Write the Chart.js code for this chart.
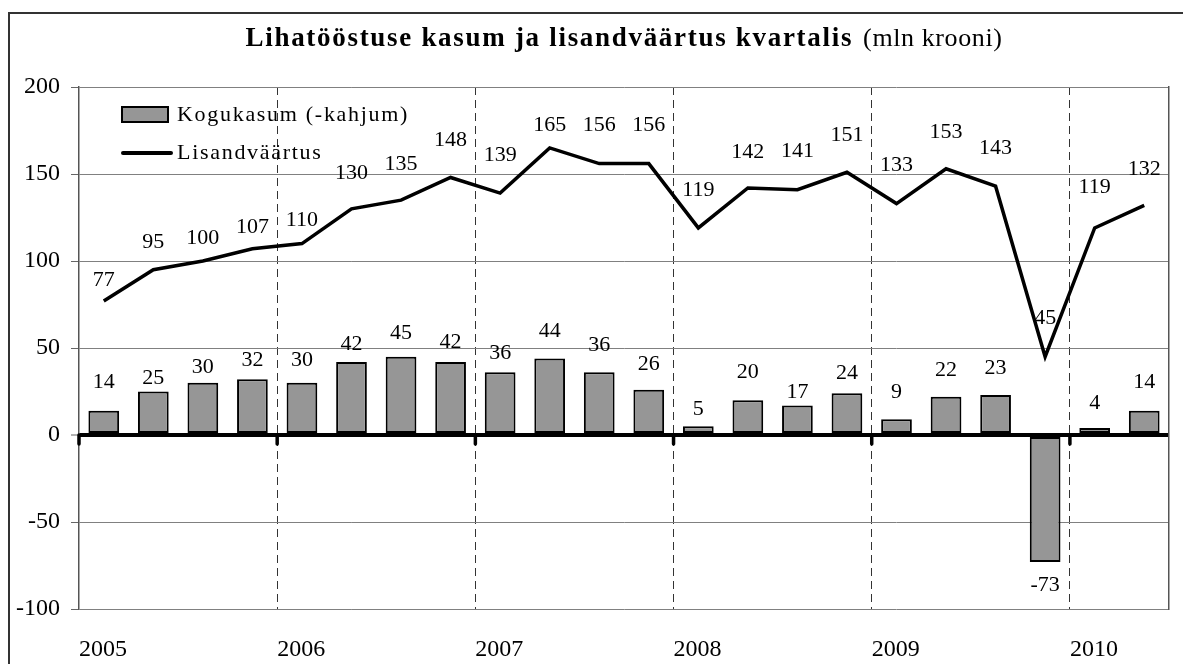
<!DOCTYPE html>
<html>
<head>
<meta charset="utf-8">
<script src="https://cdn.jsdelivr.net/npm/chart.js@4.4.1/dist/chart.umd.min.js"></script>
<style>
  body { margin: 0; background: #fff; overflow: hidden; font-family: 'Liberation Serif', serif; }
  canvas { display: block; }
  #warm { position: absolute; left: -9999px; top: 0; }
</style>
</head>
<body>
<span id="warm">Aa <b>Bb</b></span>
<canvas id="mycanvas" width="1183" height="664"></canvas>
<script>
var quarters = ['2005 I', '2005 II', '2005 III', '2005 IV',
                '2006 I', '2006 II', '2006 III', '2006 IV',
                '2007 I', '2007 II', '2007 III', '2007 IV',
                '2008 I', '2008 II', '2008 III', '2008 IV',
                '2009 I', '2009 II', '2009 III', '2009 IV',
                '2010 I', '2010 II'];
var years = ['2005', '2006', '2007', '2008', '2009', '2010'];
var profit = [14, 25, 30, 32, 30, 42, 45, 42, 36, 44, 36, 26, 5, 20, 17, 24, 9, 22, 23, -73, 4, 14];
var valueAdded = [77, 95, 100, 107, 110, 130, 135, 148, 139, 165, 156, 156, 119, 142, 141, 151, 133, 153, 143, 45, 119, 132];
var yTicks = [-100, -50, 0, 50, 100, 150, 200];

var titleBold = 'Lihatööstuse kasum ja lisandväärtus kvartalis';
var titleRest = '(mln krooni)';

// how far (px) each value label sits from its bar end / line point
var barLabelLift = [28, 13, 16, 19, 23, 18, 23, 20, 19, 27, 27, 26, 17, 28, 13, 20, 27, 27, 27, 23, 25, 28];
var lineLabelLift = [21, 27, 23, 22, 23, 36, 36, 37, 38, 23, 38, 38, 38, 36, 38, 37, 38, 37, 38, 38, 41, 36];

var serif = "'Liberation Serif', serif";

var decorations = {
  id: 'decorations',
  afterDatasetsDraw: function(chart) {
    var ctx = chart.ctx;
    var x = chart.scales.x, y = chart.scales.y;
    var y0 = y.getPixelForValue(0);

    // little ticks under the zero line at each year start
    ctx.save();
    ctx.strokeStyle = '#000';
    ctx.lineWidth = 3.5;
    ctx.lineCap = 'round';
    for (var i = 0; i < quarters.length; i += 4) {
      var bx = i === 0 ? chart.chartArea.left : (x.getPixelForValue(i - 1) + x.getPixelForValue(i)) / 2;
      ctx.beginPath();
      ctx.moveTo(bx, y0);
      ctx.lineTo(bx, y0 + 9);
      ctx.stroke();
    }
    ctx.restore();

    // value labels
    ctx.save();
    ctx.font = '22px ' + serif;
    ctx.fillStyle = '#000';
    ctx.textAlign = 'center';
    ctx.textBaseline = 'middle';
    chart.getDatasetMeta(0).data.forEach(function(el, i) {
      var v = profit[i];
      var ly = v >= 0 ? el.y - barLabelLift[i] : el.y + barLabelLift[i];
      ctx.fillText(String(v), el.x, ly);
    });
    chart.getDatasetMeta(1).data.forEach(function(el, i) {
      ctx.fillText(String(valueAdded[i]), el.x, el.y - lineLabelLift[i]);
    });
    ctx.restore();
  },
  afterDraw: function(chart) {
    var ctx = chart.ctx;
    var area = chart.chartArea;

    // outer frame
    ctx.save();
    ctx.strokeStyle = '#333';
    ctx.lineWidth = 2;
    ctx.strokeRect(9, 13, 1200, 700);

    // title
    ctx.fillStyle = '#000';
    ctx.textBaseline = 'alphabetic';
    ctx.textAlign = 'left';
    ctx.font = 'bold 27px ' + serif;
    ctx.letterSpacing = '1.7px';
    var w1 = ctx.measureText(titleBold).width;
    ctx.font = '26px ' + serif;
    ctx.letterSpacing = '0.6px';
    var w2 = ctx.measureText(titleRest).width;
    var gap = 10;
    var tx = (area.left + area.right) / 2 - (w1 + gap + w2) / 2;
    ctx.font = 'bold 27px ' + serif;
    ctx.letterSpacing = '1.7px';
    ctx.fillText(titleBold, tx, 46);
    ctx.font = '26px ' + serif;
    ctx.letterSpacing = '0.6px';
    ctx.fillText(titleRest, tx + w1 + gap, 46);

    // legend
    var ds = chart.data.datasets;
    var lx = area.left + 43, ly = area.top + 20;
    ctx.fillStyle = ds[0].backgroundColor;
    ctx.fillRect(lx, ly, 46, 15);
    ctx.strokeStyle = '#000';
    ctx.lineWidth = 2;
    ctx.strokeRect(lx, ly, 46, 15);
    ctx.lineWidth = 4;
    ctx.lineCap = 'round';
    ctx.beginPath();
    ctx.moveTo(lx + 1, ly + 46);
    ctx.lineTo(lx + 49, ly + 46);
    ctx.stroke();
    ctx.fillStyle = '#000';
    ctx.font = '22px ' + serif;
    ctx.letterSpacing = '1.7px';
    ctx.textBaseline = 'middle';
    ctx.fillText(ds[0].label, lx + 55, ly + 8);
    ctx.fillText(ds[1].label, lx + 55, ly + 46);
    ctx.restore();
  }
};

function drawChart() {
  var ctx = document.getElementById('mycanvas');
  new Chart(ctx, {
    type: 'bar',
    data: {
      labels: quarters,
      datasets: [
        {
          label: 'Kogukasum (-kahjum)',
          data: profit,
          backgroundColor: '#969696',
          borderColor: '#000',
          borderWidth: 2,
          borderSkipped: false,
          barPercentage: 0.62,
          categoryPercentage: 1,
          order: 1
        },
        {
          type: 'line',
          label: 'Lisandväärtus',
          data: valueAdded,
          borderColor: '#000',
          borderWidth: 3.5,
          pointRadius: 0,
          tension: 0,
          fill: false,
          order: 0
        }
      ]
    },
    options: {
      responsive: false,
      animation: false,
      layout: { padding: { top: 87, left: 0, right: 0, bottom: 0 } },
      plugins: {
        legend: { display: false },
        title: { display: false },
        tooltip: { enabled: false }
      },
      scales: {
        x: {
          offset: true,
          grid: {
            offset: true,
            drawTicks: false,
            lineWidth: 1,
            color: function(c) {
              return (c.index % 4 === 0 && c.index > 0) ? '#333' : 'rgba(0,0,0,0)';
            }
          },
          border: { display: false, dash: [8, 5] },
          ticks: {
            autoSkip: false,
            maxRotation: 0,
            align: 'start',
            labelOffset: -24.8,
            padding: 26,
            color: '#000',
            font: { family: serif, size: 24 },
            callback: function(value, index) {
              return index % 4 === 0 ? years[index / 4] : '';
            }
          },
          afterFit: function(scale) { scale.height = 55; }
        },
        y: {
          min: yTicks[0],
          max: yTicks[yTicks.length - 1],
          ticks: {
            stepSize: 50,
            padding: 11,
            color: '#000',
            font: { family: serif, size: 24 }
          },
          grid: {
            tickLength: 8,
            tickWidth: 1,
            tickColor: '#666',
            color: function(c) { return c.tick && c.tick.value === 0 ? '#000' : '#808080'; },
            lineWidth: function(c) { return c.tick && c.tick.value === 0 ? 4 : 1; }
          },
          border: { display: true, color: '#555', width: 1.5 },
          afterFit: function(scale) { scale.width = 79; }
        },
        yRight: {
          position: 'right',
          min: yTicks[0],
          max: yTicks[yTicks.length - 1],
          ticks: { display: false },
          grid: { display: false },
          border: { display: true, color: '#555', width: 1.5 },
          afterFit: function(scale) { scale.width = 14; }
        }
      }
    },
    plugins: [decorations]
  });
}

Promise.all([
  document.fonts.load("22px 'Liberation Serif'"),
  document.fonts.load("bold 27px 'Liberation Serif'")
]).then(drawChart, drawChart);
</script>
</body>
</html>
